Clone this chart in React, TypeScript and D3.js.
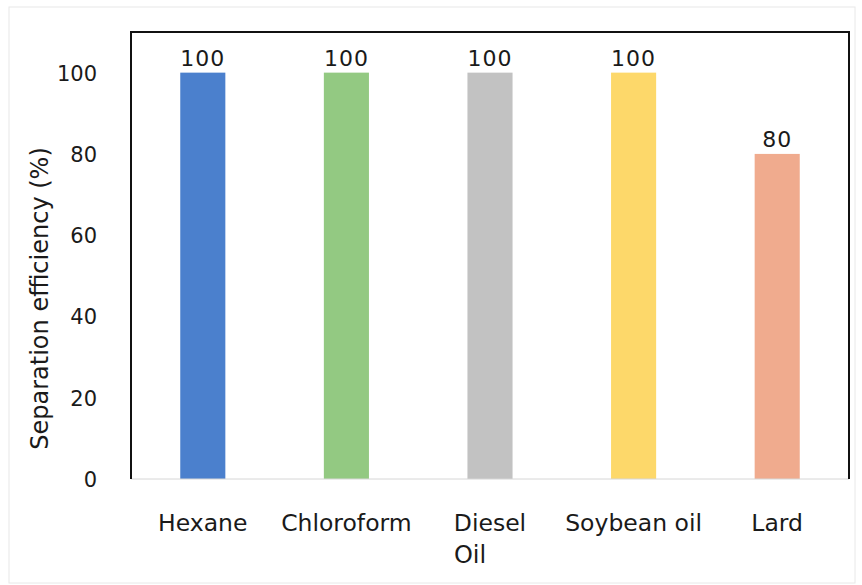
import React from "react";
import * as d3 from "d3";

const categories = ["Hexane", "Chloroform", "Diesel", "Soybean oil", "Lard"];
const values = [100, 100, 100, 100, 80];
const colors = ["#4b80cd", "#93c982", "#c2c2c2", "#fdd86a", "#f0ab8e"];
const yTicks = [0, 20, 40, 60, 80, 100];

const W = 862, H = 585;
const M = { left: 131, right: 849, top: 32, bottom: 479 };
const FONT = "'DejaVu Sans', Verdana, sans-serif";

export default function App() {
  const x = d3.scaleBand<string>().domain(categories).range([M.left, M.right]).paddingInner(0.686).paddingOuter(0.343);
  const y = d3.scaleLinear().domain([0, 110]).range([M.bottom, M.top]);
  return (
    <svg width={W} height={H} style={{ position: "absolute", left: 0, top: 0, background: "#fff" }}>
      <rect x={9} y={7} width={846} height={576} fill="none" stroke="#e8e8e8" strokeWidth={1} />
      {categories.map((c, i) => (
        <g key={c}>
          <rect x={x(c)} y={y(values[i])} width={x.bandwidth()} height={y(0) - y(values[i])} fill={colors[i]} />
          <text x={x(c)! + x.bandwidth() / 2} y={y(values[i]) - 7} textAnchor="middle" fontFamily={FONT} fontSize={22} letterSpacing={1} fill="#1a1a1a">{values[i]}</text>
          <text x={x(c)! + x.bandwidth() / 2} y={531} textAnchor="middle" fontFamily={FONT} fontSize={23.5} fill="#1a1a1a">{c}</text>
        </g>
      ))}
      {yTicks.map(t => (
        <text key={t} x={97} y={y(t) + 8} textAnchor="end" fontFamily={FONT} fontSize={21} fill="#1a1a1a">{t}</text>
      ))}
      <line x1={M.left} x2={M.right} y1={M.bottom} y2={M.bottom} stroke="#d6d6d6" strokeWidth={1} />
      <path d={`M${M.left},${M.bottom}V${M.top}H${M.right}V${M.bottom}`} fill="none" stroke="#111" strokeWidth={2} />
      <text x={470} y={563} textAnchor="middle" fontFamily={FONT} fontSize={24} fill="#1a1a1a">Oil</text>
      <text transform={`translate(48,${(M.top + M.bottom) / 2 + 43}) rotate(-90)`} textAnchor="middle" fontFamily={FONT} fontSize={24} fill="#1a1a1a">Separation efficiency (%)</text>
    </svg>
  );
}
